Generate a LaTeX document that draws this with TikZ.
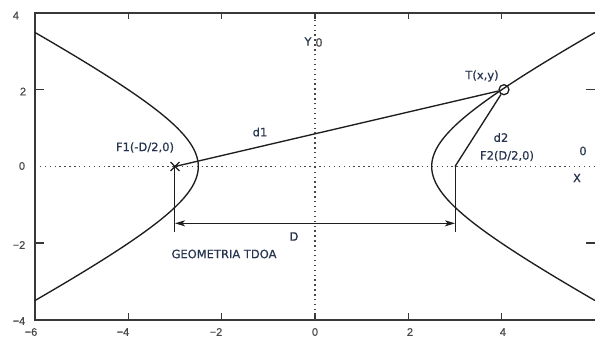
\documentclass[tikz,border=0pt]{standalone}
\usepackage{fontspec}
\setmainfont{DejaVu Sans}
\newfontfamily\lblfont[FakeBold=0.5]{DejaVu Sans}
\newfontfamily\axfont[FakeBold=0.4]{Liberation Sans}
\usetikzlibrary{arrows.meta,shapes.misc}
\definecolor{txt}{HTML}{26344F}
\definecolor{ln}{HTML}{1E1E1E}
\definecolor{fr}{HTML}{383838}
\definecolor{tk}{HTML}{484848}
\tikzset{
  curve/.style={draw=ln,line width=1.35pt},
  frameline/.style={draw=fr,line width=1.6pt},
  axisdot/.style={draw=tk,line width=1.4pt,dash pattern=on 1.4pt off 3.5pt},
  lbl/.style={text=txt,font=\lblfont\fontsize{11.5}{12}\selectfont,inner sep=0pt},
  ticklbl/.style={text=tk,font=\axfont\fontsize{11}{12}\selectfont,inner sep=0pt},
  dim/.style={draw=ln,line width=1pt},
}
\begin{document}
\begin{tikzpicture}[x=1pt,y=1pt]
\useasboundingbox (0,0) rectangle (595,339);
\fill[white] (0,0) rectangle (595,339);
\begin{scope}[shift={(315pt,172.5pt)},x=46.67pt,y=38.4pt]
  % frame (left, top, bottom)
  \coordinate (BL) at (-6,-4);
  \coordinate (TL) at (-6,4);
  \coordinate (TR) at (6,4);
  \coordinate (BR) at (6,-4);
  \draw[frameline] (TR) -- (TL) -- (BL) -- (BR);
  % ticks
  \foreach \v in {-4,-2,0,2,4}{
    \draw[frameline] (\v,4) -- ++(0,-6pt);
    \draw[frameline] (\v,-4) -- ++(0,7pt);
  }
  \foreach \v in {-2,2}{
    \draw[frameline] (-6,\v) -- ++(9pt,0);
    \draw[frameline] (6,\v) -- ++(-9pt,0);
  }
  % dotted axes
  \coordinate (XL) at (-6,0); \coordinate (XR) at (6,0);
  \coordinate (YB) at (0,-4); \coordinate (YT) at (0,4);
  \draw[axisdot] (XL) -- (XR);
  \draw[axisdot] (YB) -- (YT);
  % hyperbola branches
  \draw[curve] plot[domain=-1.522:1.522,samples=90,smooth] ({-2.5*cosh(\x)},{1.6*sinh(\x)});
  \draw[curve] plot[domain=-1.522:1.522,samples=90,smooth] ({2.5*cosh(\x)},{1.6*sinh(\x)});
  % foci and target
  \node[cross out,draw=ln,line width=1.3pt,minimum size=7.5pt,inner sep=0pt] (F1) at (-3,0) {};
  \coordinate (F2) at (3,0);
  \node[circle,draw=ln,line width=1.3pt,minimum size=10pt,inner sep=0pt] (T) at (4.05,2) {};
  \draw[curve] (F1.center) -- (T);
  \draw[curve] (F2) -- (T);
  % dimension D
  \coordinate (L1) at (-3,-1.71);
  \coordinate (L2) at (3,-1.71);
  \draw[dim] (F1.center) -- (L1);
  \draw[dim] (F2) -- (L2);
  \coordinate (A1) at (-3,-1.48);
  \coordinate (A2) at (3,-1.48);
  \draw[dim,{Stealth[length=10pt,width=6pt,inset=2.5pt]}-{Stealth[length=10pt,width=6pt,inset=2.5pt]}] (A1) -- (A2);
\end{scope}
% labels
\node[lbl] (lF1) at (145,191.5) {F1(-D/2,0)};
\node[lbl] (ld1) at (260,207) {d1};
\node[lbl] (lY) at (308,297.5) {Y};
\node[lbl,text=tk] (lY0) at (319,296.5) {0};
\node[lbl] (lT) at (482,263) {T(x,y)};
\node[lbl] (ld2) at (501,201.5) {d2};
\node[lbl] (lF2) at (507,183) {F2(D/2,0)};
\node[lbl] (lX0) at (583,188) {0};
\node[lbl] (lX) at (577,161) {X};
\node[lbl] (lD) at (294,102.5) {D};
\node[lbl] (lG) at (224,85) {GEOMETRIA TDOA};
% tick labels
\node[ticklbl] (ty4) at (16,323.5) {4};
\node[ticklbl] (ty2) at (23,247.5) {2};
\node[ticklbl] (ty0) at (22,173) {0};
\node[ticklbl] (tym2) at (19,94) {−2};
\node[ticklbl] (tym4) at (19,18) {−4};
\node[ticklbl] (tx1) at (31,7) {−6};
\node[ticklbl] (tx2) at (123,7) {−4};
\node[ticklbl] (tx3) at (216,7) {−2};
\node[ticklbl] (tx4) at (315,7) {0};
\node[ticklbl] (tx5) at (410,7) {2};
\node[ticklbl] (tx6) at (503,7) {4};
\end{tikzpicture}
\end{document}
